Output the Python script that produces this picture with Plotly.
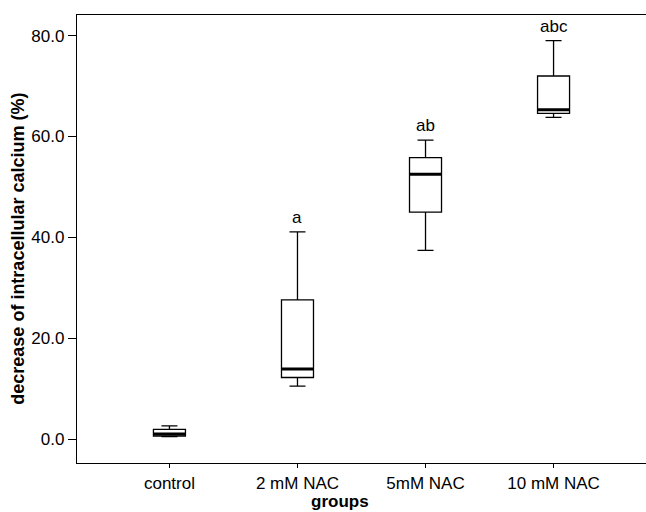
import plotly.graph_objects as go

groups = ["control", "2 mM NAC", "5mM NAC", "10 mM NAC"]
lower_whisker = [0.5, 10.5, 37.4, 63.8]
q1 = [0.6, 12.2, 45.0, 64.6]
median = [1.0, 13.9, 52.5, 65.3]
q3 = [1.9, 27.6, 55.8, 72.0]
upper_whisker = [2.6, 41.1, 59.3, 79.0]
letters = ["", "a", "ab", "abc"]
y_ticks = [0, 20, 40, 60, 80]
y_tick_text = ["0.0", "20.0", "40.0", "60.0", "80.0"]

BOX_W = 0.25
FONT = "Liberation Sans, Arial, sans-serif"
xs = list(range(len(groups)))

fig = go.Figure()
fig.add_trace(go.Box(
    x=xs, q1=q1, median=median, q3=q3,
    lowerfence=lower_whisker, upperfence=upper_whisker,
    width=BOX_W, whiskerwidth=0.5,
    fillcolor="white", line=dict(color="black", width=1.3),
    boxpoints=False, showlegend=False, hoverinfo="skip",
))

# thick median lines
mx, my = [], []
for i, m in zip(xs, median):
    mx += [i - BOX_W / 2, i + BOX_W / 2, None]
    my += [m, m, None]
fig.add_trace(go.Scatter(x=mx, y=my, mode="lines",
                         line=dict(color="black", width=3),
                         showlegend=False, hoverinfo="skip"))

for i, (lab, uw) in enumerate(zip(letters, upper_whisker)):
    if lab:
        fig.add_annotation(x=i, y=uw, text=lab, showarrow=False,
                           yanchor="bottom", yshift=3,
                           font=dict(family=FONT, size=17, color="black"))

fig.add_annotation(xref="paper", yref="paper", x=0.462, y=-0.087,
                   text="<b>groups</b>", showarrow=False,
                   xanchor="center", yanchor="middle",
                   font=dict(family=FONT, size=17, color="black"))
fig.add_annotation(xref="paper", yref="paper", x=-0.104, y=0.478,
                   text="<b>decrease of intracellular calcium (%)</b>",
                   showarrow=False, textangle=-90,
                   xanchor="center", yanchor="middle",
                   font=dict(family=FONT, size=18, color="black"))

fig.update_layout(
    width=646, height=512,
    margin=dict(l=77, r=0, t=15, b=49),
    paper_bgcolor="white", plot_bgcolor="white",
    font=dict(family=FONT, size=17, color="black"),
)
fig.update_xaxes(
    range=[-0.722, 3.722], tickvals=xs, ticktext=groups,
    showline=True, linecolor="black", linewidth=1.3, mirror=True,
    ticks="outside", ticklen=4, tickcolor="black", tickwidth=1.3,
    showgrid=False, zeroline=False,
)
fig.update_yaxes(
    range=[-4.76, 84.1], tickvals=y_ticks, ticktext=y_tick_text,
    showline=True, linecolor="black", linewidth=1.3, mirror=False,
    ticks="outside", ticklen=8, tickcolor="black", tickwidth=1.3,
    showgrid=False, zeroline=False,
)

fig.write_html("out.html")
